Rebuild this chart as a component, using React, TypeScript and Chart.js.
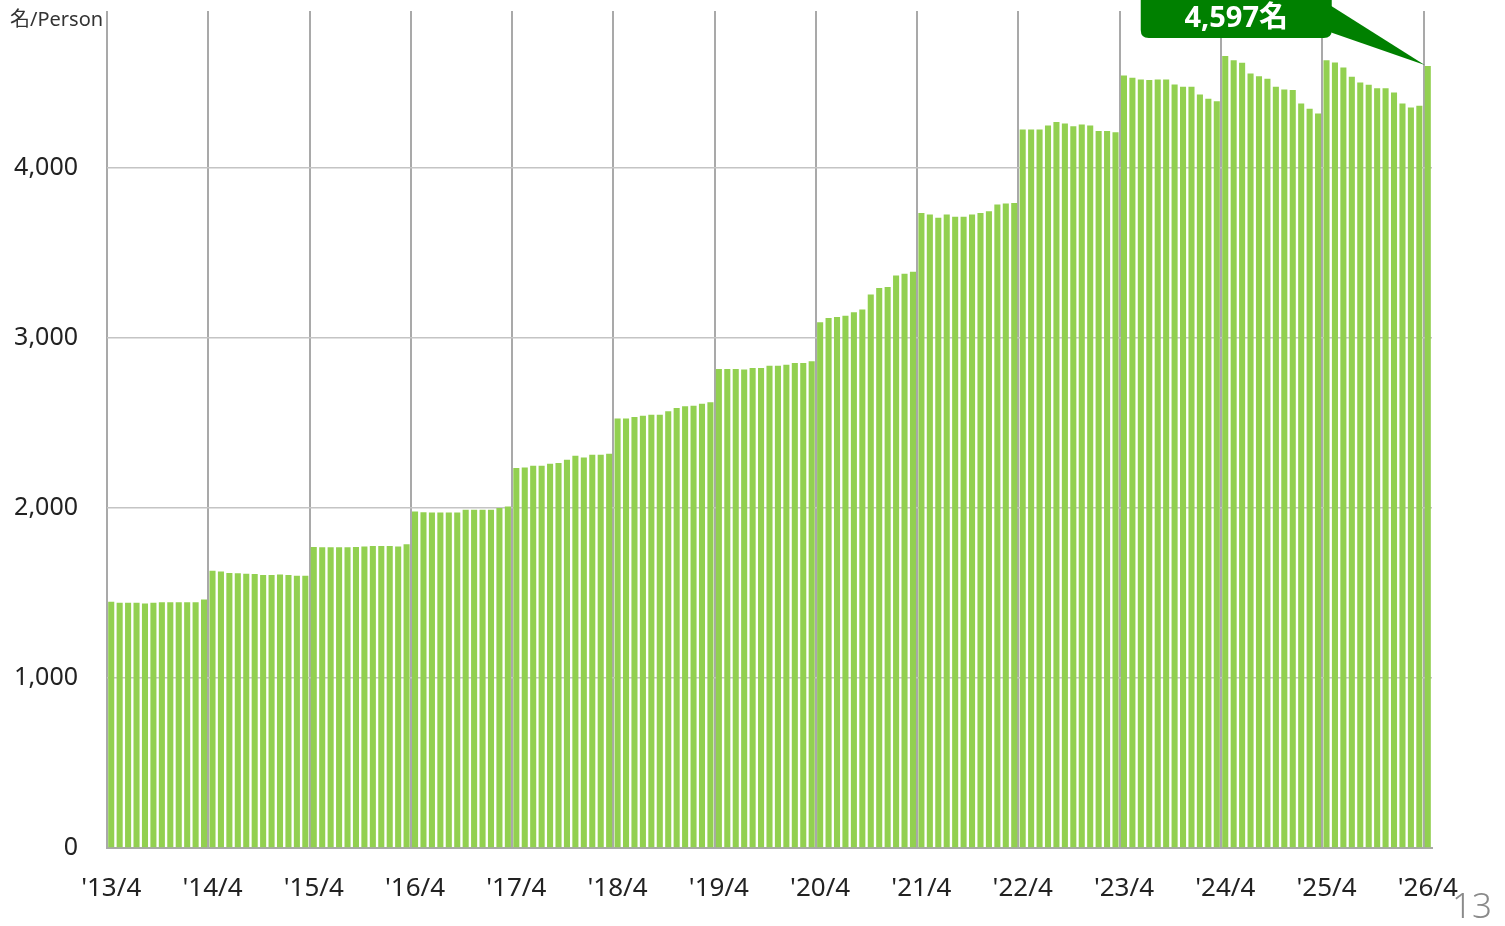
import React, { useEffect, useRef } from "react";
import { Chart, registerables } from "chart.js";

Chart.register(...registerables);

const startYear = 13;
const y13 = [1448, 1441, 1441, 1441, 1437, 1441, 1445, 1445, 1445, 1445, 1445, 1460];
const y14 = [1630, 1625, 1617, 1615, 1612, 1610, 1605, 1605, 1607, 1605, 1600, 1600];
const y15 = [1770, 1768, 1768, 1768, 1768, 1770, 1772, 1775, 1775, 1775, 1772, 1785];
const y16 = [1978, 1974, 1972, 1972, 1972, 1972, 1988, 1988, 1988, 1988, 1998, 2008];
const y17 = [2233, 2236, 2247, 2247, 2259, 2263, 2282, 2306, 2296, 2312, 2312, 2318];
const y18 = [2524, 2524, 2533, 2541, 2547, 2547, 2567, 2586, 2596, 2600, 2612, 2620];
const y19 = [2816, 2816, 2816, 2812, 2822, 2822, 2835, 2835, 2841, 2851, 2851, 2861];
const y20 = [3090, 3115, 3121, 3129, 3149, 3165, 3253, 3292, 3298, 3365, 3375, 3388];
const y21 = [3733, 3724, 3704, 3724, 3710, 3710, 3724, 3733, 3743, 3782, 3788, 3792];
const y22 = [4224, 4224, 4224, 4247, 4267, 4259, 4243, 4253, 4247, 4214, 4214, 4208];
const y23 = [4541, 4527, 4518, 4514, 4518, 4518, 4488, 4474, 4474, 4429, 4404, 4390];
const y24 = [4655, 4631, 4616, 4553, 4537, 4522, 4474, 4459, 4455, 4376, 4345, 4318];
const y25 = [4631, 4618, 4588, 4533, 4500, 4486, 4466, 4466, 4441, 4376, 4353, 4363];
const y26 = [4597];

const values = [
  ...y13, ...y14, ...y15, ...y16, ...y17, ...y18, ...y19,
  ...y20, ...y21, ...y22, ...y23, ...y24, ...y25, ...y26,
];

// Category labels: "'YY/M", starting at '13/4
const labels: string[] = values.map((_, i) => {
  const m = ((3 + i) % 12) + 1;
  const yy = startYear + Math.floor((3 + i) / 12);
  return `'${yy}/${m}`;
});

const yTicks = [0, 1000, 2000, 3000, 4000];
const yMax = 4920;
const unitLabel = "名/Person";
const pageNumber = "13";
const calloutSuffix = "名";

const FONT = '"Noto Sans", "Noto Sans CJK JP", sans-serif';

const calloutPlugin = {
  id: "callout",
  afterDraw(chart: any) {
    const meta = chart.getDatasetMeta(0);
    const idx = values.length - 1;
    const el = meta.data[idx];
    if (!el) return;
    const ctx = chart.ctx;
    const tipX = el.x - el.width / 2;
    const tipY = el.y - 1;
    const right = tipX - 93;
    const left = right - 191;
    const top = -12;
    const bottom = 38;
    const r = 8;
    ctx.save();
    ctx.fillStyle = "#008000";
    ctx.beginPath();
    ctx.moveTo(left, top);
    ctx.lineTo(right, top);
    ctx.lineTo(right, bottom - r);
    ctx.quadraticCurveTo(right, bottom, right - r, bottom);
    ctx.lineTo(left + r, bottom);
    ctx.quadraticCurveTo(left, bottom, left, bottom - r);
    ctx.closePath();
    ctx.fill();
    ctx.beginPath();
    ctx.moveTo(right - 2, 5);
    ctx.lineTo(tipX, tipY);
    ctx.lineTo(right - 2, 32);
    ctx.closePath();
    ctx.fill();
    ctx.fillStyle = "#ffffff";
    ctx.font = `bold 29px ${FONT}`;
    ctx.textAlign = "center";
    ctx.textBaseline = "middle";
    ctx.fillText(values[idx].toLocaleString("en-US") + calloutSuffix, (left + right) / 2, 19);
    ctx.restore();
  },
};

export default function App() {
  const ref = useRef<HTMLCanvasElement>(null);
  useEffect(() => {
    if (!ref.current) return;
    const chart = new Chart(ref.current, {
      type: "bar",
      data: {
        labels,
        datasets: [
          {
            data: values,
            backgroundColor: "#92D050",
            borderWidth: 0,
            barPercentage: 0.72,
            categoryPercentage: 1,
          },
        ],
      },
      options: {
        animation: false,
        responsive: false,
        devicePixelRatio: 1,
        layout: { padding: { left: 0, top: 11, right: 73, bottom: 0 } },
        plugins: {
          legend: { display: false },
          tooltip: { enabled: false },
        },
        scales: {
          x: {
            afterFit: (s: any) => {
              s.height = 78;
              s.paddingLeft = 0;
              s.paddingRight = 0;
            },
            grid: {
              offset: true,
              drawTicks: false,
              lineWidth: 2,
              color: (c: any) => (c.index % 12 === 0 ? "#a9a9a9" : "rgba(0,0,0,0)"),
            },
            border: { display: true, color: "#a9a9a9", width: 2 },
            ticks: {
              autoSkip: false,
              maxRotation: 0,
              minRotation: 0,
              padding: 25,
              color: "#222",
              font: { family: FONT, size: 26 },
              callback: (_v: any, i: number) => (i % 12 === 0 ? labels[i] : ""),
            },
          },
          y: {
            min: 0,
            max: yMax,
            afterFit: (s: any) => {
              s.width = 107;
              s.paddingTop = 0;
              s.paddingBottom = 0;
            },
            afterBuildTicks: (s: any) => {
              s.ticks = yTicks.map((v) => ({ value: v }));
            },
            grid: {
              drawTicks: false,
              color: "#c4c4c4",
              lineWidth: 1.5,
            },
            border: { display: false },
            ticks: {
              padding: 29,
              color: "#222",
              font: { family: FONT, size: 25 },
              callback: (v: any) => Number(v).toLocaleString("en-US"),
            },
          },
        },
      },
      plugins: [calloutPlugin],
    } as any);
    return () => chart.destroy();
  }, []);

  return (
    <div style={{ position: "absolute", left: 0, top: 0, width: 1505, height: 926, background: "#fff", overflow: "hidden" }}>
      <canvas ref={ref} width={1505} height={926} style={{ position: "absolute", left: 0, top: 0 }} />
      <div
        style={{
          position: "absolute",
          left: 10,
          top: 5,
          fontFamily: FONT,
          fontSize: 20,
          color: "#333",
          lineHeight: "28px",
          whiteSpace: "nowrap",
        }}
      >
        {unitLabel}
      </div>
      <div
        style={{
          position: "absolute",
          left: 1452,
          top: 885,
          fontFamily: FONT,
          fontSize: 35,
          fontWeight: 300,
          color: "#8a8a8a",
          lineHeight: "40px",
        }}
      >
        {pageNumber}
      </div>
    </div>
  );
}
